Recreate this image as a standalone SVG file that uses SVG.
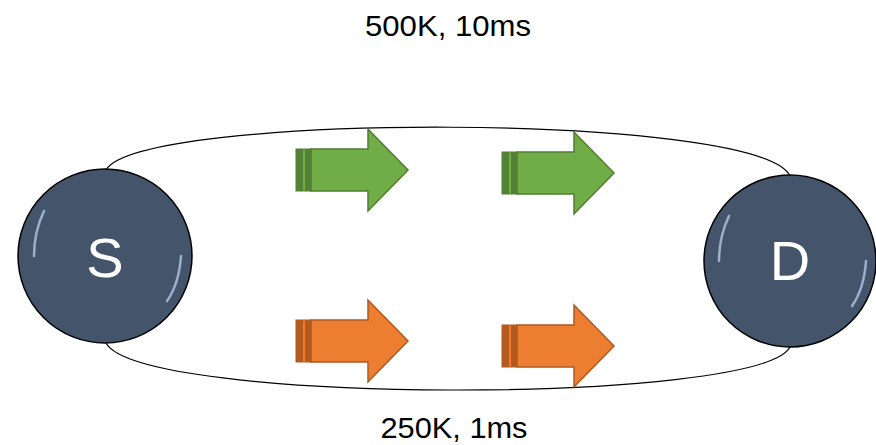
<svg xmlns="http://www.w3.org/2000/svg" width="876" height="445" viewBox="0 0 876 445">
<style>
.lbl{font-family:"Liberation Sans",Arial,sans-serif;font-size:30px;fill:#000;text-anchor:middle}
.node{fill:#44546A;stroke:#000;stroke-width:1.5}
.ntxt{font-family:"Liberation Sans",Arial,sans-serif;font-size:56px;fill:#fff;text-anchor:middle}
.hl{fill:none;stroke:#B8CFEE;stroke-width:2.5;stroke-linecap:round;opacity:0.75}
.link{fill:none;stroke:#000;stroke-width:1.2}
.gbody{fill:#70AD47;stroke:#507E32;stroke-width:1.5}
.gstripe{fill:#548235;stroke:none}
.gback{fill:#70AD47;stroke:#507E32;stroke-width:1}
.obody{fill:#ED7D31;stroke:#AE5A21;stroke-width:1.5}
.ostripe{fill:#B55A1E;stroke:none}
.oback{fill:#ED7D31;stroke:#AE5A21;stroke-width:1}
</style>
<defs>
<g id="garrow">
<rect class="gback" x="0" y="-21" width="15" height="42"/>
<rect class="gstripe" x="0" y="-21" width="7" height="42"/>
<rect class="gstripe" x="9" y="-21" width="6" height="42"/>
<path class="gbody" d="M15,-21 H72 V-41 L112,0 L72,41 V21 H15 Z"/>
</g>
<g id="oarrow">
<rect class="oback" x="0" y="-21" width="15" height="42"/>
<rect class="ostripe" x="0" y="-21" width="7" height="42"/>
<rect class="ostripe" x="9" y="-21" width="6" height="42"/>
<path class="obody" d="M15,-21 H72 V-41 L112,0 L72,41 V21 H15 Z"/>
</g>
</defs>
<g id="connectors">
<path class="link" d="M106,170 C140,112 760,112 790,176"/>
<path class="link" d="M106,343 C140,405 760,405 790,347"/>
</g>
<g id="node-S">
<circle class="node" cx="105" cy="256" r="87"/>
<path class="hl" d="M44,211 Q34,232 34,256"/>
<path class="hl" d="M181,256 Q179,284 167,301"/>
<text class="ntxt" x="105" y="277">S</text>
</g>
<g id="node-D">
<circle class="node" cx="790" cy="261" r="86"/>
<path class="hl" d="M729,216 Q719,237 719,261"/>
<path class="hl" d="M866,261 Q864,289 852,306"/>
<text class="ntxt" x="790" y="280">D</text>
</g>
<g id="arrow-g1"><use href="#garrow" transform="translate(296,170)"/></g>
<g id="arrow-g2"><use href="#garrow" transform="translate(502,173)"/></g>
<g id="arrow-o1"><use href="#oarrow" transform="translate(296,341)"/></g>
<g id="arrow-o2"><use href="#oarrow" transform="translate(502,346)"/></g>
<text class="lbl" x="448" y="36" textLength="166" lengthAdjust="spacingAndGlyphs">500K, 10ms</text>
<text class="lbl" x="454" y="438" textLength="147" lengthAdjust="spacingAndGlyphs">250K, 1ms</text>
</svg>
